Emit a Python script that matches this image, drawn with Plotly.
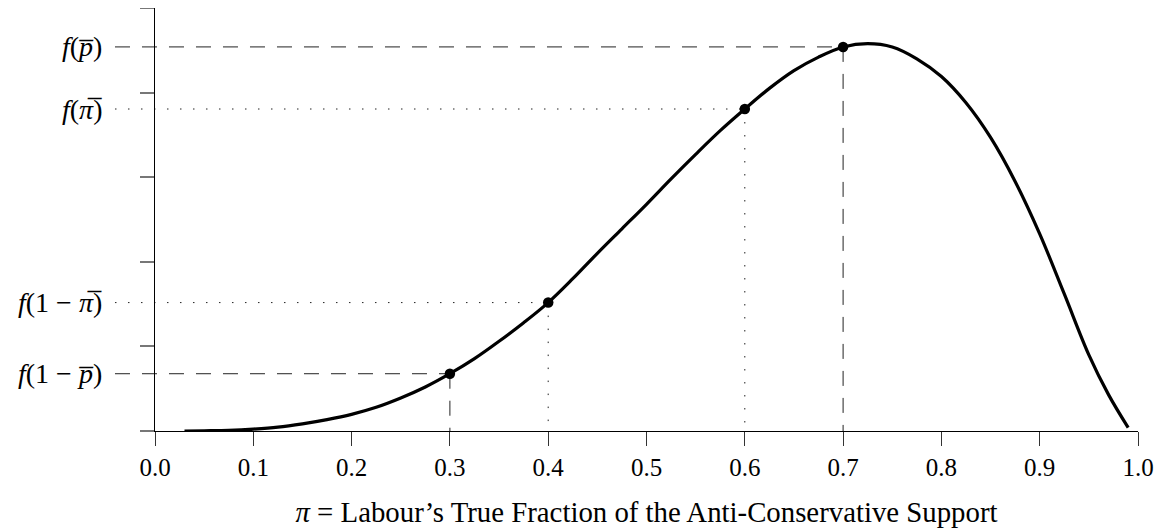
import plotly.graph_objects as go

# Curve f(pi)
pi_vals = [0.03, 0.05, 0.075, 0.10, 0.125, 0.15, 0.175, 0.20, 0.225, 0.25, 0.275,
           0.30, 0.325, 0.35, 0.375, 0.40, 0.425, 0.45, 0.475, 0.50, 0.525, 0.55,
           0.575, 0.60, 0.625, 0.65, 0.675, 0.70, 0.725, 0.75, 0.775, 0.80, 0.825,
           0.85, 0.875, 0.90, 0.925, 0.95, 0.97, 0.99]
f_vals = [0.0, 0.003, 0.008, 0.022, 0.045, 0.085, 0.135, 0.197, 0.28, 0.39, 0.52,
          0.677, 0.855, 1.06, 1.28, 1.518, 1.80, 2.10, 2.39, 2.68, 2.98, 3.27,
          3.55, 3.806, 4.05, 4.26, 4.42, 4.54, 4.58, 4.54, 4.40, 4.19, 3.88,
          3.47, 2.95, 2.33, 1.62, 0.90, 0.43, 0.04]

# Highlighted points
pt_x = [0.3, 0.4, 0.6, 0.7]
pt_y = [0.677, 1.518, 3.806, 4.54]
pt_labels = ["<i>f</i>(1 − <i>p̅</i>)", "<i>f</i>(1 − <i>π̅</i>)",
             "<i>f</i>(<i>π̅</i>)", "<i>f</i>(<i>p̅</i>)"]
pt_styles = ["dash", "dot", "dot", "dash"]

x_ticks = [0.0, 0.1, 0.2, 0.3, 0.4, 0.5, 0.6, 0.7, 0.8, 0.9, 1.0]
y_ticks = [0, 1, 2, 3, 4, 5]

FONT = "Liberation Serif"
dash_map = {"dash": "15px,12px", "dot": "1.5px,11.5px"}

fig = go.Figure()
fig.add_trace(go.Scatter(x=pi_vals, y=f_vals, mode="lines",
                         line=dict(color="black", width=3.2, shape="spline", smoothing=1.0),
                         hoverinfo="skip", showlegend=False))
fig.add_trace(go.Scatter(x=pt_x, y=pt_y, mode="markers",
                         marker=dict(color="black", size=10.5),
                         showlegend=False, cliponaxis=False))

label_x = -0.0519
line_start = -0.0407
for x, y, lab, st in zip(pt_x, pt_y, pt_labels, pt_styles):
    fig.add_shape(type="line", xref="paper", yref="y", x0=line_start, x1=x, y0=y, y1=y,
                  line=dict(color="#222", width=1, dash=dash_map[st]), layer="below")
    fig.add_shape(type="line", xref="x", yref="y", x0=x, x1=x, y0=y, y1=0,
                  line=dict(color="#222", width=1, dash=dash_map[st]), layer="below")
    fig.add_annotation(xref="paper", yref="y", x=label_x, y=y, text=lab, showarrow=False,
                       xanchor="right", yanchor="middle",
                       font=dict(family=FONT, size=28, color="black"))

fig.update_layout(
    width=1168, height=532,
    margin=dict(l=147, r=38, t=0, b=109),
    plot_bgcolor="white", paper_bgcolor="white",
    font=dict(family=FONT, size=25, color="black"),
)
fig.update_xaxes(range=[0, 1], tickvals=x_ticks, ticktext=[f"{v:.1f}" for v in x_ticks],
                 ticks="outside", ticklen=14, tickwidth=1, tickcolor="#333",
                 showline=True, linecolor="black", linewidth=1, showgrid=False, zeroline=False,
                 tickfont=dict(family=FONT, size=25),
                 title=dict(text="<i>π</i> = Labour’s True Fraction of the Anti-Conservative Support",
                            font=dict(family=FONT, size=28.8), standoff=21))
fig.update_yaxes(range=[0, 5], tickvals=y_ticks, showticklabels=False,
                 ticks="outside", ticklen=14, tickwidth=1.5, tickcolor="#777",
                 showline=True, linecolor="black", linewidth=1, showgrid=False, zeroline=False)

fig.write_html("out.html")
